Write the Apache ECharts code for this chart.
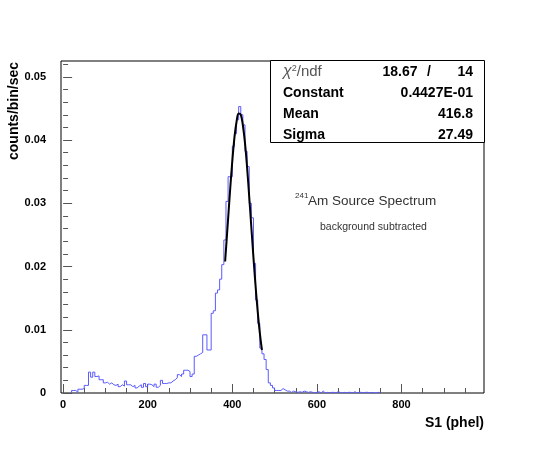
<!DOCTYPE html>
<html>
<head>
<meta charset="utf-8">
<script src="https://cdn.jsdelivr.net/npm/echarts@6/dist/echarts.min.js"></script>
<style>
  html, body { margin: 0; padding: 0; background: #fff; }
  #chart { width: 545px; height: 454px; }
</style>
</head>
<body>
<div id="chart"></div>
<script>
// axis ticks (S1 in phel, rate in counts/bin/sec)
const xMajorTicks = [0, 200, 400, 600, 800];
const xMinorTicks = [50, 100, 150, 250, 300, 350, 450, 500, 550, 650, 700, 750, 850, 900, 950];
const yMajorTicks = [0, 0.01, 0.02, 0.03, 0.04, 0.05];
const yMinorTicks = [0.002, 0.004, 0.006, 0.008, 0.012, 0.014, 0.016, 0.018,
  0.022, 0.024, 0.026, 0.028, 0.032, 0.034, 0.036, 0.038,
  0.042, 0.044, 0.046, 0.048, 0.052];

// histogram: first bin low edge, bin width, counts/bin/sec per bin
const firstBin = 20;
const binWidth = 5;
const rate = [
  0.0004, 0.0004, 0.0001, 0.0006, 0.0006, 0.0007, 0.0012, 0.0012,   // 20-55
  0.0033, 0.0025, 0.0033, 0.0026, 0.0027, 0.0021, 0.0021, 0.0016,   // 60-95
  0.0017, 0.0014, 0.0016, 0.0013, 0.0012, 0.0014, 0.0010, 0.0013,   // 100-135
  0.0011, 0.0019, 0.0013, 0.0013, 0.0010, 0.0012, 0.0008, 0.0011,   // 140-175
  0.0013, 0.0009, 0.0015, 0.0010, 0.0014, 0.0013, 0.0010, 0.0014,   // 180-215
  0.0009, 0.0012, 0.0020, 0.0015, 0.0015, 0.0016, 0.0016, 0.0019,   // 220-255
  0.0021, 0.0024, 0.0029, 0.0026, 0.0030, 0.0036, 0.0036, 0.0034,   // 260-295
  0.0026, 0.0030, 0.0058, 0.0060, 0.0062, 0.0064, 0.0092, 0.0092,   // 300-335
  0.0068, 0.0068, 0.0126, 0.0130, 0.0158, 0.0163, 0.0180, 0.0203,   // 340-375
  0.0242, 0.0303, 0.0342, 0.0342, 0.0390, 0.0410, 0.0432, 0.0453,   // 380-415
  0.0440, 0.0424, 0.0382, 0.0358, 0.0300, 0.0277, 0.0205, 0.0147,   // 420-455
  0.0110, 0.0071, 0.0062, 0.0053, 0.0037, 0.0016, 0.0012, 0.0008,   // 460-495
  0.0004, 0.0004, 0.0004, 0.0007, 0.0005, 0.0003, 0.0003, 0.0001,   // 500-535
  0.0003, 0.0002, 0.0001, 0.0002, 0.0001, 0.0003, 0.0002, 0.0001,   // 540-575
  0.0002, 0.0001, 0.0000, 0.0001, 0.0002, 0.0000, 0.0003, 0.0000,   // 580-615
  0.0001, 0.0000, 0.0001, 0.0001, 0.0000, 0.0002, 0.0001, 0.0000,   // 620-655
  0.0001, 0.0000, 0.0001, 0.0001, 0.0000, 0.0002, 0.0000, 0.0001,   // 660-695
  0.0001, 0.0000, 0.0001, 0.0001, 0.0000, 0.0001, 0.0000, 0.0000,   // 700-735
  0.0001, 0.0000                                                    // 740-745
];

// gaussian fit curve
const fitX = [383, 390, 395, 400, 405, 410, 415, 420, 425, 430, 435, 440, 445, 450, 455, 460, 465, 470];
const fitY = [0.0208, 0.0275, 0.0323, 0.0367, 0.0404, 0.0429, 0.0442, 0.0440, 0.0423,
  0.0395, 0.0356, 0.0310, 0.0262, 0.0214, 0.0169, 0.0129, 0.0095, 0.0068];

// stats box rows
const statLabels = ['Constant', 'Mean', 'Sigma'];
const statValues = ['0.4427E-01', '416.8', '27.49'];
const chi2 = '18.67';
const ndf = '14';

const histData = [[firstBin, 0]];
rate.forEach(function (v, i) {
  histData.push([firstBin + i * binWidth, v]);
});
const lastEdge = firstBin + rate.length * binWidth;
histData.push([lastEdge, rate[rate.length - 1]]);
histData.push([lastEdge, 0]);

const fitData = fitX.map(function (x, i) { return [x, fitY[i]]; });

const font = 'Liberation Sans, Arial, sans-serif';
const tickColor = '#555';

var myChart = echarts.init(document.getElementById('chart'));

var rows = [];
statLabels.forEach(function (name, i) {
  var y = 93 + i * 21;
  rows.push({
    type: 'text', z: 20, x: 283, y: y,
    style: { text: name, font: 'bold 14px ' + font, fill: '#000', verticalAlign: 'middle' }
  });
  rows.push({
    type: 'text', z: 20, x: 473, y: y,
    style: { text: statValues[i], font: 'bold 14px ' + font, fill: '#000', align: 'right', verticalAlign: 'middle' }
  });
});

var option = {
  animation: false,
  grid: {
    left: 61, right: 61, top: 61, bottom: 61,
    show: true, borderColor: '#000', borderWidth: 1, backgroundColor: 'transparent'
  },
  xAxis: [
    {
      type: 'value', min: -5, max: 995, position: 'bottom',
      axisLine: { show: false },
      splitLine: { show: false },
      axisTick: { show: true, inside: true, length: 9, customValues: xMajorTicks, lineStyle: { color: tickColor } },
      axisLabel: {
        customValues: xMajorTicks, margin: 6,
        fontFamily: font, fontWeight: 'bold', fontSize: 11, color: '#000'
      }
    },
    {
      type: 'value', min: -5, max: 995, position: 'bottom',
      axisLine: { show: false },
      splitLine: { show: false },
      axisTick: { show: true, inside: true, length: 5, customValues: xMinorTicks, lineStyle: { color: tickColor } },
      axisLabel: { show: false }
    }
  ],
  yAxis: [
    {
      type: 'value', min: 0, max: 0.0525, position: 'left',
      axisLine: { show: false },
      splitLine: { show: false },
      axisTick: { show: true, inside: true, length: 9, customValues: yMajorTicks, lineStyle: { color: tickColor } },
      axisLabel: {
        customValues: yMajorTicks, margin: 15,
        fontFamily: font, fontWeight: 'bold', fontSize: 11, color: '#000',
        formatter: function (v) { return v === 0 ? '0' : v.toFixed(2); }
      }
    },
    {
      type: 'value', min: 0, max: 0.0525, position: 'left',
      axisLine: { show: false },
      splitLine: { show: false },
      axisTick: { show: true, inside: true, length: 5, customValues: yMinorTicks, lineStyle: { color: tickColor } },
      axisLabel: { show: false }
    }
  ],
  series: [
    {
      name: 'S1', type: 'line', step: 'end',
      xAxisIndex: 0, yAxisIndex: 0,
      showSymbol: false, symbol: 'none',
      lineStyle: { color: '#5a5aff', width: 1 },
      data: histData, z: 3
    },
    {
      name: 'fit', type: 'line', smooth: 0.4,
      xAxisIndex: 0, yAxisIndex: 0,
      showSymbol: false, symbol: 'none',
      lineStyle: { color: '#000', width: 2 },
      data: fitData, z: 4
    }
  ],
  graphic: [
    // stats box
    {
      type: 'rect', z: 15,
      shape: { x: 270.5, y: 60.5, width: 214, height: 82 },
      style: { fill: '#fff', stroke: '#000', lineWidth: 1 }
    },
    {
      type: 'text', z: 20, x: 283, y: 72,
      style: {
        text: '{c|χ}{s|2}{n|/ndf}', verticalAlign: 'middle',
        rich: {
          c: { font: 'italic 16px ' + font, fill: '#555' },
          s: { font: '9px ' + font, fill: '#555', verticalAlign: 'top', padding: [0, 0, 6, 0] },
          n: { font: '15px ' + font, fill: '#555' }
        }
      }
    },
    {
      type: 'text', z: 20, x: 400, y: 72,
      style: { text: chi2, font: 'bold 14px ' + font, fill: '#000', align: 'center', verticalAlign: 'middle' }
    },
    {
      type: 'text', z: 20, x: 429, y: 72,
      style: { text: '/', font: 'bold 14px ' + font, fill: '#000', align: 'center', verticalAlign: 'middle' }
    },
    {
      type: 'text', z: 20, x: 473, y: 72,
      style: { text: ndf, font: 'bold 14px ' + font, fill: '#000', align: 'right', verticalAlign: 'middle' }
    }
  ].concat(rows).concat([
    // annotation
    {
      type: 'text', z: 20, x: 295, y: 196,
      style: { text: '241', font: '8px ' + font, fill: '#333', verticalAlign: 'middle' }
    },
    {
      type: 'text', z: 20, x: 308, y: 201,
      style: { text: 'Am Source Spectrum', font: '13.5px ' + font, fill: '#333', verticalAlign: 'middle' }
    },
    {
      type: 'text', z: 20, x: 320, y: 227,
      style: { text: 'background subtracted', font: '10.5px ' + font, fill: '#333', verticalAlign: 'middle' }
    },
    // axis titles
    {
      type: 'text', z: 20, x: 14, y: 111, rotation: Math.PI / 2,
      style: { text: 'counts/bin/sec', font: 'bold 14px ' + font, fill: '#000', align: 'center', verticalAlign: 'middle' }
    },
    {
      type: 'text', z: 20, x: 484, y: 423,
      style: { text: 'S1 (phel)', font: 'bold 14px ' + font, fill: '#000', align: 'right', verticalAlign: 'middle' }
    }
  ])
};

myChart.setOption(option);
</script>
</body>
</html>
